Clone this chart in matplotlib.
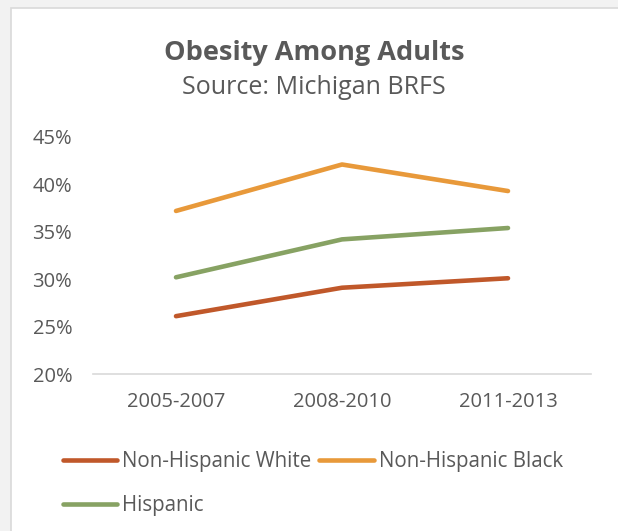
import matplotlib.pyplot as plt
from matplotlib.patches import Rectangle

# Данные
periods = ["2005-2007", "2008-2010", "2011-2013"]
white = [26.1, 29.1, 30.1]
black = [37.2, 42.1, 39.3]
hispanic = [30.2, 34.2, 35.4]

series_names = ["Non-Hispanic White", "Non-Hispanic Black", "Hispanic"]
colors = ["#C0582A", "#E8993A", "#87A263"]
text_color = "#595959"

plt.rcParams["font.family"] = ["Open Sans", "DejaVu Sans"]

W, H = 618, 531
fig = plt.figure(figsize=(W / 100, H / 100), dpi=100)
fig.patch.set_facecolor("#f2f2f2")

# Белая область диаграммы
bg = Rectangle((11 / W, -0.01), 1, 1 - 8 / H + 0.01, transform=fig.transFigure,
               facecolor="white", edgecolor="#d9d9d9", linewidth=1.2, zorder=-10)
fig.patches.append(bg)

ax = fig.add_axes([93 / W, 157 / H, 498 / W, 237 / H])
ax.set_facecolor("none")

x = range(len(periods))
lines = []
for vals, name, c in zip([white, black, hispanic], series_names, colors):
    ln, = ax.plot(x, vals, color=c, linewidth=3.3, solid_capstyle="round",
                  solid_joinstyle="round", label=name)
    lines.append(ln)

ax.set_xlim(-0.5, 2.5)
ax.set_ylim(20, 45)
ax.set_yticks([20, 25, 30, 35, 40, 45])
ax.set_yticklabels([f"{v}%" for v in [20, 25, 30, 35, 40, 45]])
ax.set_xticks(list(x))
ax.set_xticklabels(periods)
ax.tick_params(length=0, labelsize=14.5, colors=text_color)
ax.tick_params(axis="y", pad=15)
ax.tick_params(axis="x", pad=13)
for s in ["top", "right", "left"]:
    ax.spines[s].set_visible(False)
ax.spines["bottom"].set_color("#d9d9d9")
ax.spines["bottom"].set_linewidth(1.2)

fig.text(314 / W, 1 - 53 / H, "Obesity Among Adults", ha="center", va="center",
         fontsize=19.5, fontweight="bold", color=text_color)
fig.text(314 / W, 1 - 88 / H, "Source: Michigan BRFS", ha="center", va="center",
         fontsize=18, color=text_color)

# порядок по столбцам: White, Hispanic | Black
order = [0, 2, 1]
fig.legend([lines[i] for i in order], [series_names[i] for i in order],
           loc="upper left", bbox_to_anchor=(44 / W, 1 - 433 / H), ncol=2, frameon=False,
           fontsize=14.8, handlelength=2.65, handletextpad=0.24, columnspacing=0.39,
           labelspacing=1.1, labelcolor=text_color)

plt.savefig("out.png", dpi=100, facecolor=fig.get_facecolor())
